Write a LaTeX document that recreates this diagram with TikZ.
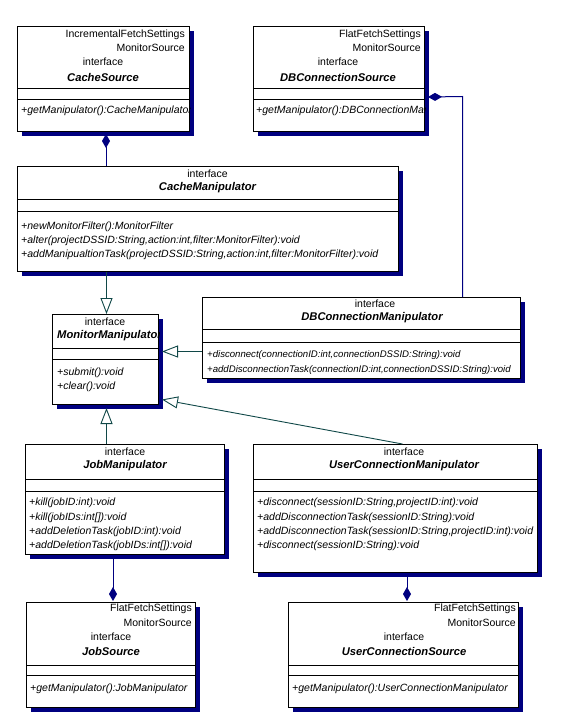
\documentclass[tikz,border=0pt]{standalone}
\usepackage{fontspec}
\setmainfont{Liberation Sans}
\usetikzlibrary{arrows.meta,shadows,calc}
\definecolor{navyc}{RGB}{0,0,128}
\definecolor{genc}{RGB}{16,72,72}
\begin{document}
\begin{tikzpicture}[x=1pt,y=-1pt,
  cls/.style={draw=black, line width=1pt, fill=white, inner sep=0pt, anchor=north west,
    drop shadow={shadow xshift=4pt, shadow yshift=-4pt, fill=navyc, opacity=1}},
  sepline/.style={draw=black, line width=1pt},
  txt/.style={inner sep=0pt, font=\fontsize{10.5}{12}\selectfont},
  stereo/.style={txt, anchor=east},
  iface/.style={txt, anchor=center},
  cname/.style={txt, anchor=center, font=\fontsize{11.2}{12}\selectfont\bfseries\itshape},
  cnamew/.style={txt, anchor=west, font=\fontsize{11.2}{12}\selectfont\bfseries\itshape},
  meth/.style={txt, anchor=west, font=\fontsize{10.5}{12}\selectfont\itshape},
  methn/.style={txt, anchor=west, font=\fontsize{9.6}{12}\selectfont\itshape},
  comp/.style={draw=navyc, line width=1pt, {Diamond[length=14pt,width=8pt,fill=navyc]}-},
  gen/.style={draw=genc, line width=0.9pt, -{Triangle[open,length=16pt,width=12pt,fill=white]}}
]
\useasboundingbox[fill=white] (0,0) rectangle (576,718);

% ---------- CacheSource ----------
\node[cls, minimum width=172pt, minimum height=105pt] (cs) at (17,26) {};
\draw[sepline] (cs.west |- 0,88) -- (cs.east |- 0,88);
\draw[sepline] (cs.west |- 0,99) -- (cs.east |- 0,99);
\begin{scope}
\clip (cs.south west) rectangle (cs.north east);
\node[stereo] (cs-s1) at (185,35) {IncrementalFetchSettings};
\node[stereo] (cs-s2) at (185,48) {MonitorSource};
\node[iface] (cs-i) at (103,62) {interface};
\node[cname] (cs-n) at (103,77) {CacheSource};
\node[meth] (cs-m1) at (21,111) {+getManipulator():CacheManipulator};
\end{scope}

% ---------- DBConnectionSource ----------
\node[cls, minimum width=171pt, minimum height=105pt] (dbs) at (253,26) {};
\draw[sepline] (dbs.west |- 0,88) -- (dbs.east |- 0,88);
\draw[sepline] (dbs.west |- 0,99) -- (dbs.east |- 0,99);
\begin{scope}
\clip (dbs.south west) rectangle (dbs.north east);
\node[stereo] (dbs-s1) at (421,35) {FlatFetchSettings};
\node[stereo] (dbs-s2) at (421,48) {MonitorSource};
\node[iface] (dbs-i) at (338,62) {interface};
\node[cname] (dbs-n) at (338,77) {DBConnectionSource};
\node[meth] (dbs-m1) at (256,111) {+getManipulator():DBConnectionManipulator};
\end{scope}

% ---------- CacheManipulator ----------
\node[cls, minimum width=381pt, minimum height=105pt] (cm) at (17,166) {};
\draw[sepline] (cm.west |- 0,199) -- (cm.east |- 0,199);
\draw[sepline] (cm.west |- 0,211) -- (cm.east |- 0,211);
\node[iface] (cm-i) at (207.5,174) {interface};
\node[cname] (cm-n) at (207.5,188) {CacheManipulator};
\node[meth] (cm-m1) at (21,226.5) {+newMonitorFilter():MonitorFilter};
\node[meth] (cm-m2) at (21,240.5) {+alter(projectDSSID:String,action:int,filter:MonitorFilter):void};
\node[meth] (cm-m3) at (21,254.5) {+addManipualtionTask(projectDSSID:String,action:int,filter:MonitorFilter):void};

% ---------- MonitorManipulator ----------
\node[cls, minimum width=106pt, minimum height=90pt] (mm) at (52,314) {};
\draw[sepline] (mm.west |- 0,348) -- (mm.east |- 0,348);
\draw[sepline] (mm.west |- 0,359) -- (mm.east |- 0,359);
\begin{scope}
\clip (mm.south west) rectangle (mm.north east);
\node[iface] (mm-i) at (105,322) {interface};
\node[cnamew] (mm-n) at (57,336) {MonitorManipulator};
\node[meth] (mm-m1) at (57,373) {+submit():void};
\node[meth] (mm-m2) at (57,387) {+clear():void};
\end{scope}

% ---------- DBConnectionManipulator ----------
\node[cls, minimum width=318pt, minimum height=81pt] (dbm) at (202,297) {};
\draw[sepline] (dbm.west |- 0,329) -- (dbm.east |- 0,329);
\draw[sepline] (dbm.west |- 0,342) -- (dbm.east |- 0,342);
\node[iface] (dbm-i) at (375,304) {interface};
\node[cname] (dbm-n) at (372,318) {DBConnectionManipulator};
\node[methn] (dbm-m1) at (207,355) {+disconnect(connectionID:int,connectionDSSID:String):void};
\node[methn] (dbm-m2) at (207,370) {+addDisconnectionTask(connectionID:int,connectionDSSID:String):void};

% ---------- JobManipulator ----------
\node[cls, minimum width=199pt, minimum height=110pt] (jm) at (25,444) {};
\draw[sepline] (jm.west |- 0,479) -- (jm.east |- 0,479);
\draw[sepline] (jm.west |- 0,491) -- (jm.east |- 0,491);
\node[iface] (jm-i) at (125,452) {interface};
\node[cname] (jm-n) at (125,466) {JobManipulator};
\node[meth] (jm-m1) at (29,503) {+kill(jobID:int):void};
\node[meth] (jm-m2) at (29,518) {+kill(jobIDs:int[]):void};
\node[meth] (jm-m3) at (29,532) {+addDeletionTask(jobID:int):void};
\node[meth] (jm-m4) at (29,546) {+addDeletionTask(jobIDs:int[]):void};

% ---------- UserConnectionManipulator ----------
\node[cls, minimum width=284pt, minimum height=128pt] (ucm) at (253,444) {};
\draw[sepline] (ucm.west |- 0,479) -- (ucm.east |- 0,479);
\draw[sepline] (ucm.west |- 0,491) -- (ucm.east |- 0,491);
\node[iface] (ucm-i) at (404,452) {interface};
\node[cname] (ucm-n) at (404,466) {UserConnectionManipulator};
\node[meth] (ucm-m1) at (257,503) {+disconnect(sessionID:String,projectID:int):void};
\node[meth] (ucm-m2) at (257,518) {+addDisconnectionTask(sessionID:String):void};
\node[meth] (ucm-m3) at (257,532) {+addDisconnectionTask(sessionID:String,projectID:int):void};
\node[meth] (ucm-m4) at (257,546) {+disconnect(sessionID:String):void};

% ---------- JobSource ----------
\node[cls, minimum width=169pt, minimum height=105pt] (js) at (26,602) {};
\draw[sepline] (js.west |- 0,665) -- (js.east |- 0,665);
\draw[sepline] (js.west |- 0,675) -- (js.east |- 0,675);
\node[stereo] (js-s1) at (192,609) {FlatFetchSettings};
\node[stereo] (js-s2) at (192,623) {MonitorSource};
\node[iface] (js-i) at (111,637) {interface};
\node[cname] (js-n) at (111,651) {JobSource};
\node[meth] (js-m1) at (30,689) {+getManipulator():JobManipulator};

% ---------- UserConnectionSource ----------
\node[cls, minimum width=230pt, minimum height=105pt] (ucs) at (288,602) {};
\draw[sepline] (ucs.west |- 0,665) -- (ucs.east |- 0,665);
\draw[sepline] (ucs.west |- 0,675) -- (ucs.east |- 0,675);
\node[stereo] (ucs-s1) at (516,609) {FlatFetchSettings};
\node[stereo] (ucs-s2) at (516,623) {MonitorSource};
\node[iface] (ucs-i) at (404,637) {interface};
\node[cname] (ucs-n) at (404,651) {UserConnectionSource};
\node[meth] (ucs-m1) at (292,689) {+getManipulator():UserConnectionManipulator};

% ---------- connectors ----------
\coordinate (dbbend) at (462.5,96.5);
\draw[comp] ($(cs.south)+(2.5,2)$) -- ($(cm.north)+(-102,0)$);
\draw[comp] ($(dbs.east)+(3,18)$) -- (dbbend) -- (dbbend |- dbm.north);
\draw[gen] ($(cm.south)+(-101.5,0)$) -- ($(mm.north)+(1,0)$);
\draw[gen] ($(dbm.west)+(0,13.5)$) -- ($(mm.east)+(3,-8)$);
\draw[gen] ($(ucm.north)+(7,0)$) -- ($(mm.east)+(3,40)$);
\draw[gen] ($(jm.north)+(-18.5,0)$) -- ($(mm.south)+(1,3)$);
\draw[comp] ($(js.north)+(2,-1)$) -- ($(jm.south)+(-12,4)$);
\draw[comp] ($(ucs.north)+(3.5,-1)$) -- ($(ucm.south)+(11.5,4)$);
\end{tikzpicture}
\end{document}
